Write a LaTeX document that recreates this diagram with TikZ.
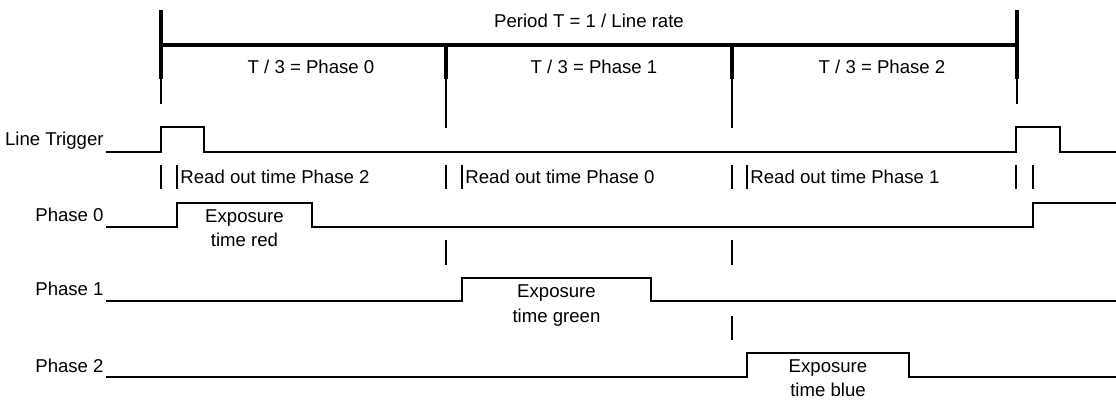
\documentclass[tikz,border=0pt]{standalone}
\usepackage{fontspec}
\setmainfont{Liberation Sans}
\begin{document}
\begin{tikzpicture}[x=0.5pt,y=-0.5pt,
  txt/.style={font=\fontsize{9.3}{12.4}\selectfont, inner sep=0pt},
  sig/.style={line width=1.3pt, line join=miter},
  thickbar/.style={line width=1.6pt},
  thinbar/.style={line width=0.8pt},
  mark1/.style={line width=0.7pt},
  mark2/.style={line width=1.1pt}]
\useasboundingbox (0,0) rectangle (1116,401);
% period bracket
\draw[thickbar] (161,10) -- (161,79);
\draw[thinbar] (161,79) -- (161,104);
\draw[thickbar] (1017,10) -- (1017,79);
\draw[thinbar] (1017,79) -- (1017,104);
\draw[thickbar] (161,45) -- (1017,45);
\draw[thickbar] (446,45) -- (446,79);
\draw[thinbar] (446,79) -- (446,128);
\draw[thickbar] (732,45) -- (732,79);
\draw[thinbar] (732,79) -- (732,128);
\node[txt, anchor=base] (period) at (589,28) {Period T = 1 / Line rate};
\node[txt, anchor=base] (ph0) at (311,74) {T / 3 = Phase 0};
\node[txt, anchor=base] (ph1) at (594,74) {T / 3 = Phase 1};
\node[txt, anchor=base] (ph2) at (882,74) {T / 3 = Phase 2};
% labels
\node[txt, anchor=base east] (ltl) at (104,146) {Line Trigger};
\node[txt, anchor=base east] (p0l) at (104,222) {Phase 0};
\node[txt, anchor=base east] (p1l) at (104,296) {Phase 1};
\node[txt, anchor=base east] (p2l) at (104,372) {Phase 2};
% line trigger
\draw[sig] (106,152) -- (161,152) -- (161,127) -- (204,127) -- (204,152) -- (1016,152) -- (1016,127) -- (1060,127) -- (1060,152) -- (1116,152);
% read out markers
\foreach \a/\b in {161/177, 446/462, 732/747, 1016/1033} {
  \draw[mark1] (\a,165) -- (\a,189);
  \draw[mark2] (\b,165) -- (\b,189);
}
\node[txt, anchor=base west] (ro2) at (180,184) {Read out time Phase 2};
\node[txt, anchor=base west] (ro0) at (465,184) {Read out time Phase 0};
\node[txt, anchor=base west] (ro1) at (750,184) {Read out time Phase 1};
% phase 0
\draw[sig] (106,227) -- (177,227) -- (177,203) -- (312,203) -- (312,227) -- (1033,227) -- (1033,203) -- (1116,203);
\node[txt, anchor=base, align=center] (exr) at (244.5,247) {Exposure\\time red};
\draw[mark1] (446,240) -- (446,265);
\draw[mark1] (732,240) -- (732,265);
% phase 1
\draw[sig] (106,301) -- (462,301) -- (462,278) -- (651,278) -- (651,301) -- (1116,301);
\node[txt, anchor=base, align=center] (exg) at (556.5,322) {Exposure\\time green};
\draw[mark1] (732,316) -- (732,340);
% phase 2
\draw[sig] (106,377) -- (747,377) -- (747,353) -- (909,353) -- (909,377) -- (1116,377);
\node[txt, anchor=base, align=center] (exb) at (828,397) {Exposure\\time blue};
\end{tikzpicture}
\end{document}
